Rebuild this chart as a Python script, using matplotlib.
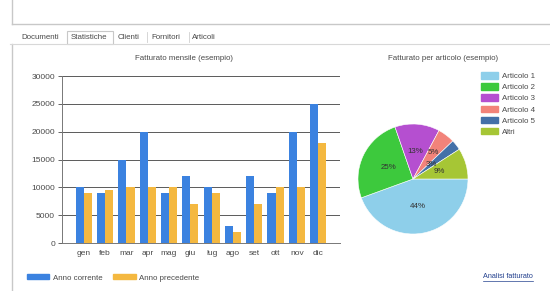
import math
import matplotlib
matplotlib.use("Agg")
import matplotlib.pyplot as plt
from matplotlib.patches import Rectangle, Patch
from matplotlib.lines import Line2D

plt.rcParams["font.family"] = ["Liberation Sans", "DejaVu Sans"]

months = ["gen", "feb", "mar", "apr", "mag", "giu", "lug", "ago", "set", "ott", "nov", "dic"]
anno_corrente = [10000, 9000, 15000, 20000, 9000, 12000, 10000, 3000, 12000, 9000, 20000, 25000]
anno_precedente = [9000, 9500, 10000, 10000, 10000, 7000, 9000, 2000, 7000, 10000, 10000, 18000]
yticks = [0, 5000, 10000, 15000, 20000, 25000, 30000]

articoli = ["Articolo 1", "Articolo 2", "Articolo 3", "Articolo 4", "Articolo 5", "Altri"]
quote = [44, 25, 13, 5, 3, 9]
pie_colors = ["#8ecfea", "#3dc93d", "#b54fd0", "#f2837a", "#4470a8", "#a6c635"]

tabs = ["Documenti", "Statistiche", "Clienti", "Fornitori", "Articoli"]
tab_x = [21, 71, 118, 151, 192]

W, H = 550, 291
fig = plt.figure(figsize=(W / 100, H / 100), dpi=100)
fig.patch.set_facecolor("white")

def fx(x):
    return x / W

def fy(y):
    return 1 - y / H

txt = "#4a4a4a"
fs = 5.7
frame = "#c8c8c8"

# window frame
fig.add_artist(Line2D([fx(12), fx(12)], [fy(0), fy(24)], color=frame, lw=1.0, transform=fig.transFigure))
fig.add_artist(Line2D([fx(12), fx(12)], [fy(44), fy(291)], color=frame, lw=1.0, transform=fig.transFigure))
fig.add_artist(Line2D([fx(12), fx(550)], [fy(24), fy(24)], color=frame, lw=1.0, transform=fig.transFigure))
fig.add_artist(Line2D([fx(10), fx(550)], [fy(44), fy(44)], color="#d8d8d8", lw=0.8, transform=fig.transFigure))
# selected tab box
fig.add_artist(Rectangle((fx(67), fy(44)), 46 / W, 13 / H, facecolor="white", edgecolor=frame,
                         lw=0.8, transform=fig.transFigure))
for t, x in zip(tabs, tab_x):
    fig.text(fx(x), fy(37.5), t, fontsize=fs, color=txt, va="center", ha="left")
for x in [147, 189]:
    fig.add_artist(Line2D([fx(x), fx(x)], [fy(32), fy(42)], color="#d0d0d0", lw=0.6, transform=fig.transFigure))

# bar chart
ax = fig.add_axes([fx(62), fy(243), (340 - 62) / W, (243 - 76) / H])
idx = list(range(len(months)))
bw = 0.38
ax.bar([i - bw / 2 for i in idx], anno_corrente, width=bw, color="#3b82e0", zorder=3)
ax.bar([i + bw / 2 for i in idx], anno_precedente, width=bw, color="#f4b840", zorder=3)
ax.set_xlim(-1.03, 12.03)
ax.set_ylim(0, 30000)
ax.set_yticks(yticks)
ax.set_yticklabels([str(v) for v in yticks])
ax.set_xticks(idx)
ax.set_xticklabels(months)
ax.tick_params(axis="both", labelsize=6.0, colors=txt, length=3, width=0.6, pad=2)
ax.tick_params(axis="x", length=0, pad=5)
ax.yaxis.grid(True, color="#5a5a5a", lw=0.7, zorder=0)
for s in ["top", "right"]:
    ax.spines[s].set_visible(False)
ax.spines["left"].set_color("#777777")
ax.spines["bottom"].set_color("#777777")
ax.spines["left"].set_linewidth(0.7)
ax.spines["bottom"].set_linewidth(0.7)
fig.text(fx(184), fy(58), "Fatturato mensile (esempio)", fontsize=fs, color=txt, ha="center", va="center")

fig.legend(handles=[Patch(color="#3b82e0", label="Anno corrente"),
                    Patch(color="#f4b840", label="Anno precedente")],
           loc="center left", bbox_to_anchor=(fx(27), fy(278)), ncol=2, frameon=False,
           fontsize=fs, handlelength=2.8, handleheight=0.6, columnspacing=1.4,
           handletextpad=0.45, labelcolor=txt, borderaxespad=0, borderpad=0)

# pie chart
axp = fig.add_axes([fx(358), fy(234), 110 / W, 110 / H])
wedges, texts, autot = axp.pie(quote, colors=pie_colors, startangle=0, counterclock=False,
                               autopct="%.0f%%", pctdistance=0.5,
                               wedgeprops=dict(edgecolor="white", linewidth=0.4),
                               textprops=dict(fontsize=fs, color="#333333"))
axp.set_xlim(-1, 1)
axp.set_ylim(-1, 1)
axp.set_aspect("equal")
# nudge the two smallest labels apart, as they crowd each other
for k, d in [(3, 0.6), (4, 0.42)]:
    w = wedges[k]
    ang = math.radians((w.theta1 + w.theta2) / 2)
    autot[k].set_position((d * math.cos(ang), d * math.sin(ang)))

fig.text(fx(443), fy(58), "Fatturato per articolo (esempio)", fontsize=fs, color=txt, ha="center", va="center")

fig.legend(handles=[Patch(color=c, label=l) for c, l in zip(pie_colors, articoli)],
           loc="upper left", bbox_to_anchor=(fx(481), fy(72)), frameon=False, fontsize=fs,
           handlelength=2.2, handleheight=0.9, labelspacing=0.4, handletextpad=0.4,
           labelcolor=txt, borderaxespad=0, borderpad=0)

fig.text(fx(533), fy(277), "Analisi fatturato", fontsize=5.2, color="#23408e", ha="right", va="center")
fig.add_artist(Line2D([fx(483), fx(533)], [fy(281), fy(281)], color="#23408e", lw=0.5, transform=fig.transFigure))

fig.savefig("out.png", dpi=100, facecolor="white")
